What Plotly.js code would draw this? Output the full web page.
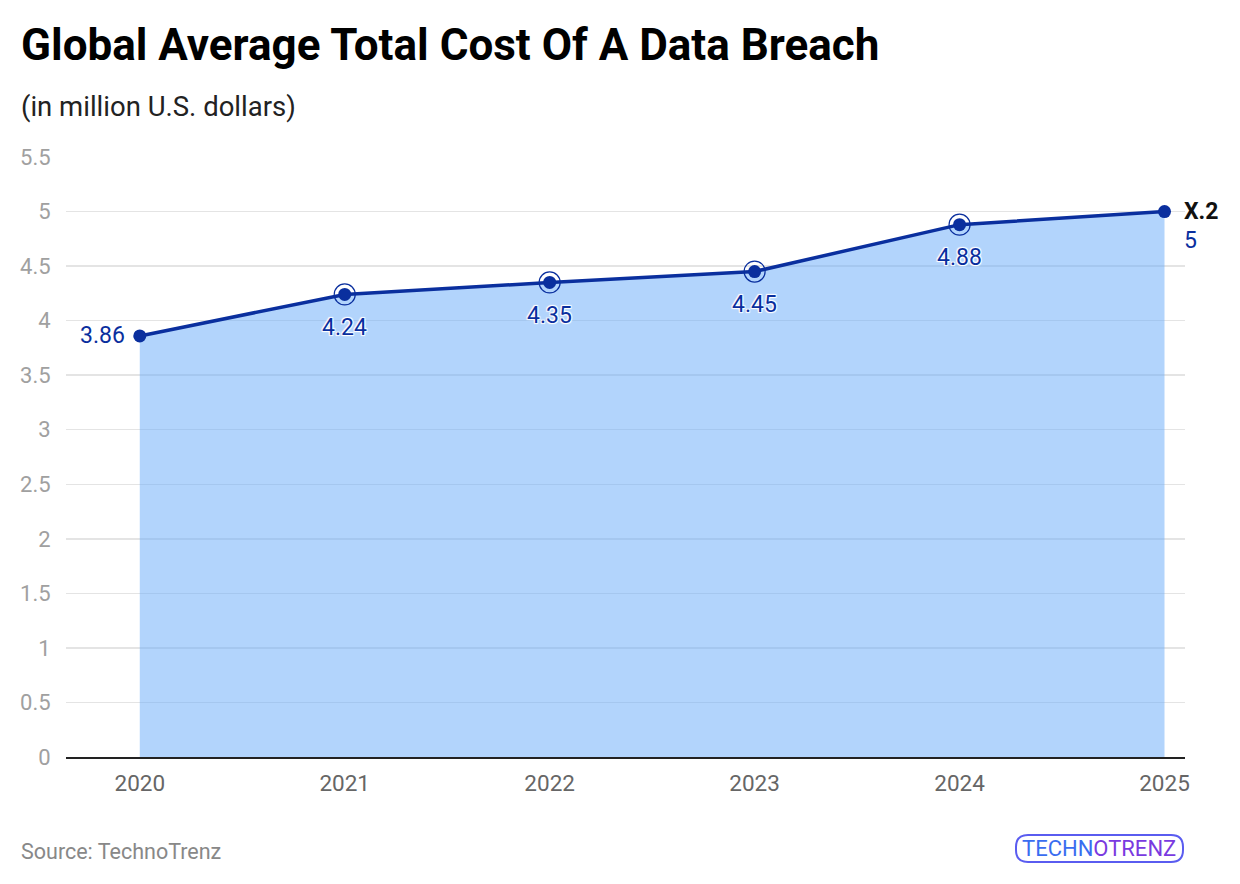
<!DOCTYPE html>
<html>
<head>
<meta charset="utf-8">
<script src="https://cdn.plot.ly/plotly-3.0.1.min.js"></script>
<style>
  html, body { margin: 0; padding: 0; background: #fff; }
  #chart { width: 1240px; height: 884px; }
</style>
</head>
<body>
<div id="chart"></div>
<script>
// data
var years = [2020, 2021, 2022, 2023, 2024, 2025];
var cost = [3.86, 4.24, 4.35, 4.45, 4.88, 5];
var ringYears = [2021, 2022, 2023, 2024];
var ringCost = [4.24, 4.35, 4.45, 4.88];
var yTicks = [0, 0.5, 1, 1.5, 2, 2.5, 3, 3.5, 4, 4.5, 5, 5.5];
var yTickText = ['0', '0.5', '1', '1.5', '2', '2.5', '3', '3.5', '4', '4.5', '5', '5.5'];

var W = 1240, H = 884;
var M = { l: 66, r: 55, t: 157, b: 127 };
var plotW = W - M.l - M.r, plotH = H - M.t - M.b;
function px(x) { return (x - M.l) / plotW; }
function py(y) { return 1 - (y - M.t) / plotH; }

var blue = '#0a2f9e';
var halo = '1px 1px 1px #fff, -1px -1px 1px #fff, 1px -1px 1px #fff, -1px 1px 1px #fff';
var labelFont = { family: 'Roboto', size: 23, color: blue, shadow: halo };

var area = {
  x: years, y: cost,
  type: 'scatter', mode: 'lines+markers',
  fill: 'tozeroy',
  fillcolor: 'rgba(102,170,250,0.5)',
  line: { color: blue, width: 3.5 },
  marker: { color: blue, size: 13 },
  hoverinfo: 'x+y'
};

var rings = {
  x: ringYears, y: ringCost,
  type: 'scatter', mode: 'markers',
  marker: { symbol: 'circle-open', size: 21, color: blue, line: { width: 1.2, color: blue } },
  hoverinfo: 'skip'
};

// value labels
var annotations = cost.map(function (v, i) {
  var a = { x: years[i], y: v, text: String(v), showarrow: false, font: labelFont };
  if (i === 0) { a.xanchor = 'right'; a.xshift = -13; a.yshift = 0; }
  else if (i === cost.length - 1) { a.xanchor = 'left'; a.xshift = 17; a.yshift = -29; }
  else { a.yshift = -33; }
  return a;
});

annotations.push({
  x: years[years.length - 1], y: cost[cost.length - 1],
  text: '<b>X.2</b>', showarrow: false, xanchor: 'left', xshift: 17,
  font: { family: 'Roboto', size: 23, color: '#111' }
});

annotations.push({
  xref: 'paper', yref: 'paper', x: px(19), y: py(45), xanchor: 'left', yanchor: 'middle',
  text: '<b>Global Average Total Cost Of A Data Breach</b>', showarrow: false,
  font: { family: 'Roboto', size: 44, color: '#000' }
});
annotations.push({
  xref: 'paper', yref: 'paper', x: px(19), y: py(106), xanchor: 'left', yanchor: 'middle',
  text: '(in million U.S. dollars)', showarrow: false,
  font: { family: 'Roboto', size: 27.5, color: '#222' }
});
annotations.push({
  xref: 'paper', yref: 'paper', x: px(19), y: py(851), xanchor: 'left', yanchor: 'middle',
  text: 'Source: TechnoTrenz', showarrow: false,
  font: { family: 'Roboto', size: 21.5, color: '#888' }
});
annotations.push({
  xref: 'paper', yref: 'paper', x: px(1099), y: py(848), xanchor: 'center', yanchor: 'middle',
  text: '<span style="color:#3a6df0">TECHN</span><span style="color:#7a3ae0">OTRENZ</span>',
  showarrow: false,
  font: { family: 'Roboto', size: 22, color: '#5a55ee' }
});

// rounded frame round the logo text
function pill(x0, y0, x1, y1, r) {
  var X0 = px(x0), X1 = px(x1), Y0 = py(y0), Y1 = py(y1);
  var rx = r / plotW, ry = r / plotH;
  return 'M' + (X0 + rx) + ',' + Y0 + ' L' + (X1 - rx) + ',' + Y0 +
    ' Q' + X1 + ',' + Y0 + ' ' + X1 + ',' + (Y0 - ry) +
    ' L' + X1 + ',' + (Y1 + ry) +
    ' Q' + X1 + ',' + Y1 + ' ' + (X1 - rx) + ',' + Y1 +
    ' L' + (X0 + rx) + ',' + Y1 +
    ' Q' + X0 + ',' + Y1 + ' ' + X0 + ',' + (Y1 + ry) +
    ' L' + X0 + ',' + (Y0 - ry) +
    ' Q' + X0 + ',' + Y0 + ' ' + (X0 + rx) + ',' + Y0 + ' Z';
}

var layout = {
  width: W, height: H,
  margin: M,
  paper_bgcolor: '#fff', plot_bgcolor: '#fff',
  showlegend: false,
  xaxis: {
    range: [2019.64, 2025.1],
    tickvals: years, ticktext: years.map(String),
    showgrid: false, zeroline: false,
    showline: true, linecolor: '#222', linewidth: 2,
    ticks: 'outside', ticklen: 5, tickcolor: 'rgba(0,0,0,0)',
    tickfont: { family: 'Roboto', size: 22.5, color: '#666' }
  },
  yaxis: {
    range: [0, 5.5],
    tickvals: yTicks, ticktext: yTickText,
    showgrid: true, gridcolor: '#e4e4e4', gridwidth: 1.5,
    zeroline: false, showline: false,
    ticks: 'outside', ticklen: 10, tickcolor: 'rgba(0,0,0,0)',
    tickfont: { family: 'Roboto', size: 22, color: '#a0a0a0' }
  },
  shapes: [{
    type: 'path', xref: 'paper', yref: 'paper',
    path: pill(1016, 835, 1183, 862, 12),
    line: { color: '#5a5cf0', width: 2 }, fillcolor: 'rgba(0,0,0,0)'
  }],
  annotations: annotations
};

Plotly.newPlot('chart', [area, rings], layout, { displayModeBar: false, staticPlot: true });
</script>
</body>
</html>
